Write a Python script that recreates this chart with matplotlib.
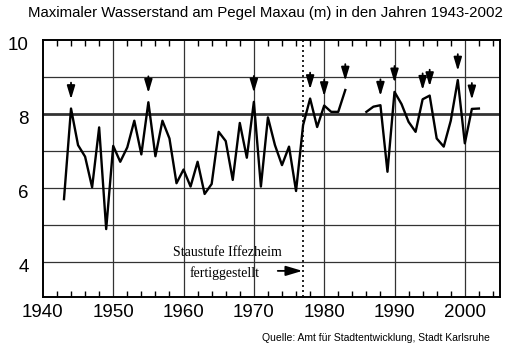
import numpy as np
import matplotlib
matplotlib.use('Agg')
import matplotlib.pyplot as plt
import matplotlib.transforms as mtransforms
from matplotlib.ticker import MultipleLocator

plt.rcParams['font.family'] = 'Liberation Sans'

years = np.arange(1943, 2003)
level = [5.70, 8.15, 7.16, 6.85, 6.02, 7.64, 4.89,  # 1943-1949
         7.14, 6.71, 7.10, 7.82, 6.91, 8.32, 6.86, 7.82, 7.34, 6.13,  # 1950s
         6.50, 6.04, 6.71, 5.84, 6.11, 7.52, 7.27, 6.22, 7.76, 6.82,  # 1960s
         8.33, 6.04, 7.91, 7.16, 6.62, 7.12, 5.92, 7.70, 8.42, 7.65,  # 1970s
         8.23, 8.06, 8.06, 8.65, np.nan, np.nan, 8.06, 8.20, 8.24, 6.44,  # 1980s
         8.60, 8.27, 7.79, 7.52, 8.40, 8.50, 7.34, 7.12, 7.82, 8.92,  # 1990s
         7.21, 8.14, 8.15]
arrow_years = [1944, 1955, 1970, 1978, 1980, 1983, 1988, 1990, 1994, 1995, 1999, 2001]
dam_year = 1977

title = 'Maximaler Wasserstand am Pegel Maxau (m) in den Jahren 1943-2002'
source = 'Quelle: Amt für Stadtentwicklung, Stadt Karlsruhe'

fig = plt.figure(figsize=(5.23, 3.55), dpi=100)
ax = fig.add_axes([0.082, 0.163, 0.874, 0.724])

level = np.array(level)
ax.plot(years, level, color='black', lw=1.7, zorder=3)

# grid: every metre, 8 m line bold
for y in range(4, 10):
    ax.axhline(y, color='#333333', lw=2.0 if y == 8 else 0.9, zorder=1)
for x in range(1950, 2005, 10):
    ax.axvline(x, color='#333333', lw=0.9, zorder=1)

ax.axvline(dam_year, color='black', lw=1.2, ls=(0, (1.2, 1.8)), zorder=2)

arrow_style = '-|>,head_length=0.8,head_width=0.24'

# arrows over the peak years
lookup = dict(zip(years, level))
for yr in arrow_years:
    tip = lookup[yr] + 0.25
    ax.annotate('', xy=(yr, tip), xytext=(yr, tip + 0.45),
                arrowprops=dict(arrowstyle=arrow_style, color='black', lw=1.3,
                                mutation_scale=10, shrinkA=0, shrinkB=0), zorder=4)

ax.text(1966.2, 4.27, 'Staustufe Iffezheim', family='Liberation Serif', fontsize=10,
        ha='center', va='center')
ax.text(1965.9, 3.71, 'fertiggestellt', family='Liberation Serif', fontsize=10,
        ha='center', va='center')
ax.annotate('', xy=(1976.9, 3.76), xytext=(1973.4, 3.76),
            arrowprops=dict(arrowstyle='-|>,head_length=1.0,head_width=0.3', color='black',
                            lw=1.3, mutation_scale=10, shrinkA=0, shrinkB=0))

ax.set_xlim(1940, 2005)
ax.set_ylim(3.05, 10)
ax.set_xticks(range(1940, 2001, 10))
ax.set_yticks([4, 6, 8, 10])
ax.xaxis.set_minor_locator(MultipleLocator(2))
ax.tick_params(axis='x', which='major', length=0, labelsize=13.5, pad=5)
ax.tick_params(axis='x', which='minor', direction='in', length=4, width=1,
               top=True, bottom=True)
ax.tick_params(axis='y', which='major', length=0, labelsize=13.5, pad=10)
# y labels sit a little below their lines in the original
shift = mtransforms.ScaledTranslation(0, -3 / 100, fig.dpi_scale_trans)
for lbl in ax.get_yticklabels():
    lbl.set_transform(lbl.get_transform() + shift)
for sp in ax.spines.values():
    sp.set_linewidth(1.4)

fig.text(0.054, 0.963, title, fontsize=10.8, ha='left', va='center')
fig.text(0.937, 0.048, source, fontsize=7.5, ha='right', va='center')

fig.savefig('out.png', dpi=100)
